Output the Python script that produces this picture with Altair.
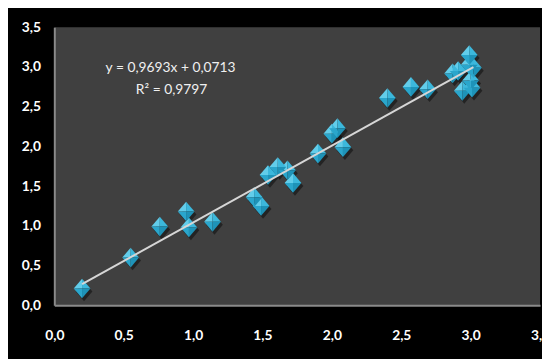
import altair as alt
import pandas as pd

x_vals = [0.20, 0.55, 0.76, 0.95, 0.97, 1.14, 1.44, 1.49, 1.54, 1.61, 1.68, 1.72,
          1.90, 2.00, 2.04, 2.08, 2.40, 2.57, 2.69, 2.87, 2.91, 2.99, 2.99, 3.02,
          3.00, 2.94, 3.01]
y_vals = [0.21, 0.60, 0.99, 1.18, 0.98, 1.05, 1.36, 1.25, 1.64, 1.74, 1.70, 1.54,
          1.91, 2.16, 2.23, 1.99, 2.61, 2.75, 2.72, 2.92, 2.95, 3.15, 3.03, 2.99,
          2.83, 2.70, 2.74]
slope = 0.9693
intercept = 0.0713
eq_lines = ["y = 0,9693x + 0,0713", "R² = 0,9797"]
ticks = [0, 0.5, 1.0, 1.5, 2.0, 2.5, 3.0, 3.5]

df = pd.DataFrame({"x": x_vals, "y": y_vals})
xmin, xmax = min(x_vals), max(x_vals)
trend = pd.DataFrame({"x": [xmin, xmax],
                      "y": [slope * xmin + intercept, slope * xmax + intercept]})

lab = "replace(format(datum.value, '.1f'), '.', ',')"
xs = alt.Scale(domain=[0, 3.5], nice=False, zero=False)
ys = alt.Scale(domain=[0, 3.5], nice=False, zero=False)
xax = alt.Axis(values=ticks, labelExpr=lab, grid=False, ticks=False, labelPadding=24,
               title=None, labelFlush=False)
yax = alt.Axis(values=ticks, labelExpr=lab, grid=False, ticks=False, labelPadding=14,
               title=None)

enc = dict(x=alt.X("x:Q", scale=xs, axis=xax), y=alt.Y("y:Q", scale=ys, axis=yax))

line = alt.Chart(trend).mark_line(color="#d6d6d6", strokeWidth=2).encode(**enc)

base = alt.Chart(df)
SIZE = 400
shadow = base.mark_point(shape="M-0.85,0L0,-1L0.85,0L0,1Z", filled=True, color="#000000",
                         opacity=0.45, size=SIZE, xOffset=2, yOffset=3).encode(**enc)
facets = [
    ("M-0.85,0L0,-1L0,0Z", "#62cdea"),
    ("M0,-1L0.85,0L0,0Z", "#3cb8dc"),
    ("M0.85,0L0,1L0,0Z", "#1e93b8"),
    ("M0,1L-0.85,0L0,0Z", "#2aa6cc"),
]
facet_layers = [
    base.mark_point(shape=p, filled=True, color=c, opacity=1, size=SIZE).encode(**enc)
    for p, c in facets
]

eq1 = alt.Chart(pd.DataFrame({"t": [eq_lines[0]]})).mark_text(
    color="#f0f0f0", font="Lato", fontSize=14, align="center", baseline="middle"
).encode(text="t:N", x=alt.value(118), y=alt.value(41))
eq2 = alt.Chart(pd.DataFrame({"t": [eq_lines[1]]})).mark_text(
    color="#f0f0f0", font="Lato", fontSize=14, align="center", baseline="middle"
).encode(text="t:N", x=alt.value(119), y=alt.value(64))

chart = alt.layer(shadow, *facet_layers, line, eq1, eq2).properties(
    width=493, height=282,
    autosize=alt.AutoSizeParams(type="none"),
    padding={"left": 47, "top": 17, "right": 2, "bottom": 52},
    background="#000000",
).configure_view(fill="#404040", stroke=None).configure_axis(
    labelColor="#ffffff", labelFont="Lato", labelFontSize=14, labelFontWeight="bold",
    domainColor="#8a8a8a", domainWidth=2,
)

chart.save("out.html", embed_options={"renderer": "svg", "actions": False})
